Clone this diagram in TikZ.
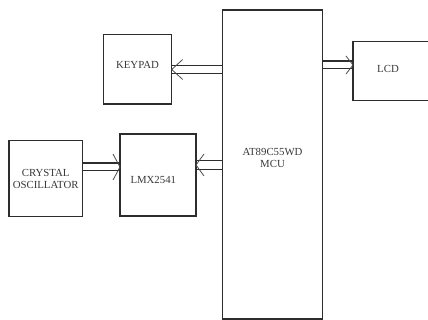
\documentclass[tikz,border=0pt]{standalone}
\usepackage{fontspec}
\setmainfont{Liberation Serif}
\usetikzlibrary{positioning, calc}
\definecolor{cLine}{RGB}{45,45,45}
\definecolor{cText}{RGB}{55,55,55}
\tikzset{
	box/.style={rectangle, draw=cLine, line width=1.2pt, inner sep=0pt, outer sep=0pt},
	txt/.style={text=cText, font=\fontsize{10.8}{12}\selectfont, align=center, inner sep=0pt},
	busline/.style={draw=cLine, line width=1.2pt},
	tipline/.style={draw=cLine!85, line width=0.8pt},
}
\begin{document}
\begin{tikzpicture}[x=1pt, y=1pt]
	\useasboundingbox (0,0) rectangle (428,320);
	\clip (0,0) rectangle (428,320);
	% blocks
	\node[box, minimum width=99.6pt, minimum height=309pt, label={[txt, yshift=7pt]center:AT89C55WD\\MCU}] (mcu) at (272.5,155.5) {};
	\node[box, minimum width=68.4pt, minimum height=69.7pt, label={[txt, yshift=4pt]center:KEYPAD}] (keypad) at (137.5,250.8) {};
	\node[box, minimum width=77pt, minimum height=59pt, label={[txt, xshift=-3.5pt, yshift=1.7pt]center:LCD}] (lcd) at (391.5,249) {};
	\node[box, minimum width=73.3pt, minimum height=76pt, label={[txt, text depth=0pt]center:{\fontsize{10.8}{15}\selectfont CRYSTAL\\OSCILLATOR}}] (crystal) at (45.7,141.3) {};
	\node[box, minimum width=76pt, minimum height=82pt, label={[txt, xshift=-4.7pt, yshift=-5pt]center:LMX2541}] (lmx) at (158,145) {};
	% bus tips
	\coordinate (kpTip) at ([yshift=-0.3pt]keypad.east);
	\coordinate (lcdTip) at ([yshift=6pt]lcd.west);
	\coordinate (lmxR) at ([yshift=10pt]lmx.east);
	\coordinate (lmxL) at ([yshift=8pt]lmx.west);
	\foreach \src/\side/\tip/\gap/\back/\spread in {mcu/west/kpTip/4.2/11/10, mcu/east/lcdTip/3.9/-7/9, mcu/west/lmxR/4.5/8/11, crystal/east/lmxL/3.9/-7/13} {
		\foreach \s in {1,-1}
			\draw[busline] ($(\tip)+(0,\s*\gap)$) -- ($(\tip -| \src.\side)+(0,\s*\gap)$);
		\draw[tipline] ($(\tip)+(\back,\spread)$) -- (\tip) -- ($(\tip)+(\back,-\spread)$);
	}
\end{tikzpicture}
\end{document}
